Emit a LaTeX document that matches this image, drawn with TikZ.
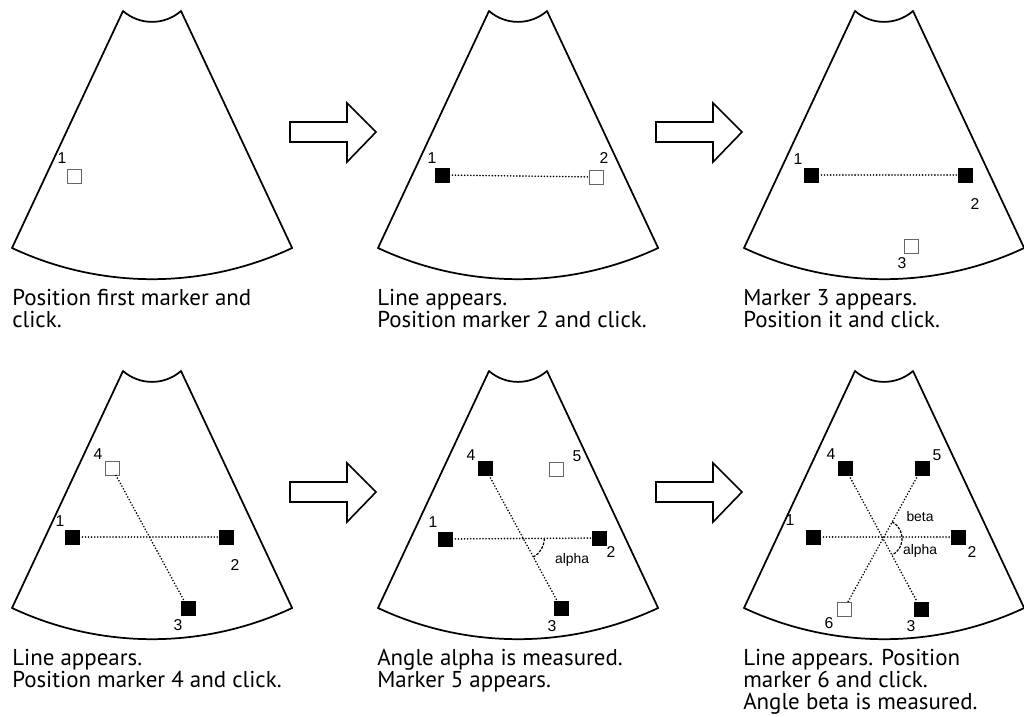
\documentclass[tikz,border=0pt]{standalone}
\usepackage{fontspec}
\setmainfont{PT Sans}
\newfontfamily\arialfont{Liberation Sans}
\tikzset{
  fanline/.style={line width=1.3pt, line join=round},
  blockarrow/.style={line width=1.2pt, line join=miter},
  filled/.style={draw=black, fill=black, line width=0.5pt, minimum size=10.5pt, inner sep=0pt},
  openbox/.style={draw=black!60, fill=white, line width=0.6pt, minimum size=10.5pt, inner sep=0pt},
  num/.style={font=\arialfont\fontsize{11.8}{12}\selectfont, inner sep=0pt},
  anglelbl/.style={font=\arialfont\fontsize{10.4}{11}\selectfont, inner sep=0pt},
  caption/.style={font=\fontsize{17.2}{16.5}\selectfont, align=left, anchor=north west, inner sep=0pt},
  track/.style={line width=1.35pt, line cap=round, dash pattern=on 0pt off 2.3pt},
  anglearc/.style={line width=0.9pt, dash pattern=on 2pt off 1pt}
}
\begin{document}
\begin{tikzpicture}[x=0.75pt, y=-0.75pt]
\useasboundingbox (0,0) rectangle (1024,717);
% the six scan sectors
\foreach \fx/\fy in {152/11, 518/11, 884/11, 152/371, 518/371, 884/371}
  \draw[fanline] (\fx-29,\fy) -- (\fx-140,\fy+237)
    arc[start angle=115.1, end angle=64.9, radius=330.2] -- (\fx+29,\fy)
    arc[start angle=48.8, end angle=131.2, radius=44] -- cycle;
% arrows between the steps
\foreach \ax/\ay in {290/132, 656/132, 290/492, 656/492}
  \draw[blockarrow] (\ax,\ay-10) -- ++(57,0) -- ++(0,-19) -- (\ax+86,\ay)
    -- (\ax+57,\ay+30) -- ++(0,-20) -- (\ax,\ay+10) -- cycle;

% step 1
\node[openbox] (a1) at (74,176) {};
\node[num] (a1n) at (62,158) {1};
\node[caption] (capa) at (12,289) {Position first marker and\\click.};

% step 2
\node[filled] (b1) at (442,175) {};
\node[openbox] (b2) at (596,177) {};
\node[num] (b1n) at (432,158) {1};
\node[num] (b2n) at (604,158) {2};
\draw[track] (b1) -- (b2);
\node[caption] (capb) at (377,289) {Line appears.\\Position marker 2 and click.};

% step 3
\node[filled] (c1) at (811,175) {};
\node[filled] (c2) at (965,175) {};
\node[openbox] (c3) at (911,246) {};
\node[num] (c1n) at (798,159) {1};
\node[num] (c2n) at (975,204) {2};
\node[num] (c3n) at (902,263) {3};
\draw[track] (c1) -- (c2);
\node[caption] (capc) at (743,289) {Marker 3 appears.\\Position it and click.};

% step 4
\node[filled] (d1) at (72,537) {};
\node[filled] (d2) at (226,537) {};
\node[filled] (d3) at (188,608) {};
\node[openbox] (d4) at (112,468) {};
\node[num] (d1n) at (60,521) {1};
\node[num] (d2n) at (235,565) {2};
\node[num] (d3n) at (178,625) {3};
\node[num] (d4n) at (98,454) {4};
\draw[track] (d1) -- (d2);
\draw[track] (d4) -- (d3);
\node[caption] (capd) at (12,649) {Line appears.\\Position marker 4 and click.};

% step 5
\node[filled] (e1) at (445,539) {};
\node[filled] (e2) at (599,538) {};
\node[filled] (e3) at (561,608) {};
\node[filled] (e4) at (485,468) {};
\node[openbox] (e5) at (556,469) {};
\node[num] (e1n) at (433,522) {1};
\node[num] (e2n) at (611,552) {2};
\node[num] (e3n) at (552,626) {3};
\node[num] (e4n) at (471,455) {4};
\node[num] (e5n) at (577,456) {5};
\draw[track] (e1) -- (e2);
\draw[track] (e4) -- (e3);
\coordinate (ex) at (intersection of e1--e2 and e4--e3);
\draw[anglearc] (ex) ++(0:21) arc[start angle=0, end angle=61.5, radius=21];
\node[anglelbl] (alphae) at (572,560) {alpha};
\node[caption] (cape) at (377,649) {Angle alpha is measured.\\Marker 5 appears.};

% step 6
\node[filled] (f1) at (813,537) {};
\node[filled] (f2) at (958,537) {};
\node[filled] (f3) at (921,609) {};
\node[filled] (f4) at (845,468) {};
\node[filled] (f5) at (922,468) {};
\node[openbox] (f6) at (844,609) {};
\node[num] (f1n) at (790,520) {1};
\node[num] (f2n) at (972,552) {2};
\node[num] (f3n) at (911,626) {3};
\node[num] (f4n) at (831,454) {4};
\node[num] (f5n) at (937,455) {5};
\node[num] (f6n) at (829,623) {6};
\draw[track] (f1) -- (f2);
\draw[track] (f4) -- (f3);
\draw[track] (f5) -- (f6);
\coordinate (fx) at (intersection of f4--f3 and f5--f6);
\draw[anglearc] (fx) ++(-61.4:19) arc[start angle=-61.4, end angle=61.4, radius=19];
\node[anglelbl] (betaf) at (920,517) {beta};
\node[anglelbl] (alphaf) at (920,551) {alpha};
\node[caption] (capf) at (743,649) {Line appears. Position\\marker 6 and click.\\Angle beta is measured.};
\end{tikzpicture}
\end{document}
